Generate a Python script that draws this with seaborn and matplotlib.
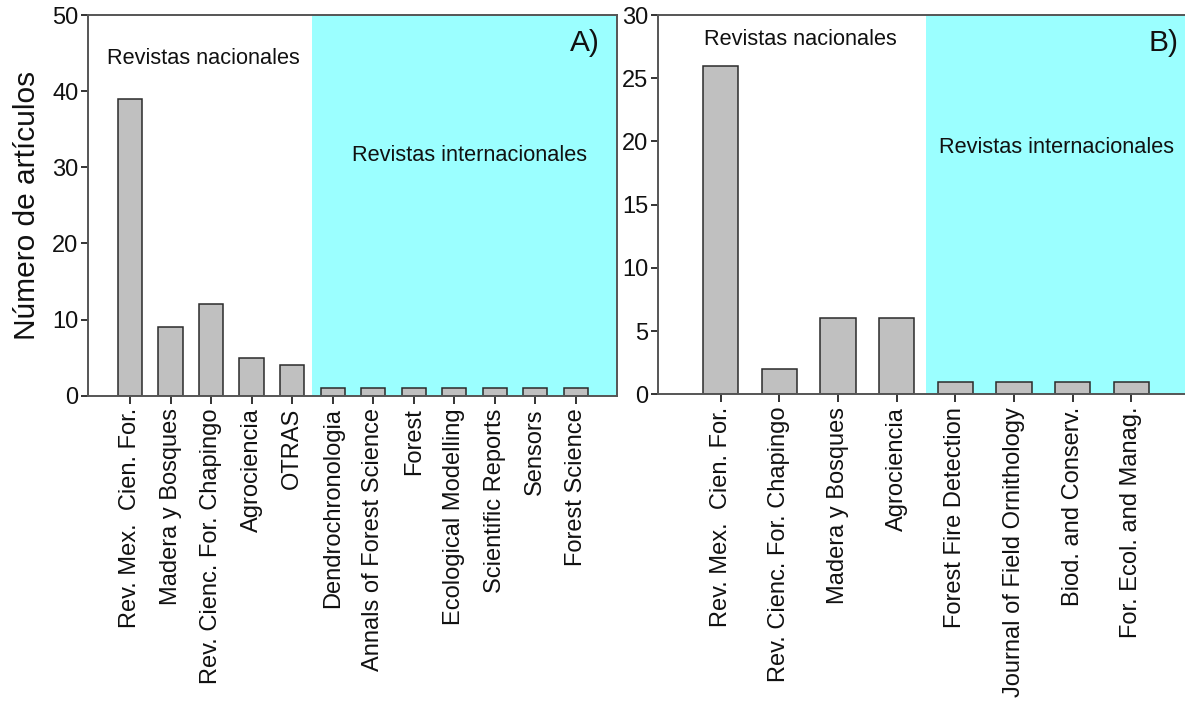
import matplotlib
matplotlib.use("Agg")
import matplotlib.pyplot as plt
import seaborn as sns
import pandas as pd

# Panel A: articles per journal
journals_a = ["Rev. Mex.  Cien. For.", "Madera y Bosques", "Rev. Cienc. For. Chapingo",
              "Agrociencia", "OTRAS", "Dendrochronologia", "Annals of Forest Science",
              "Forest", "Ecological Modelling", "Scientific Reports", "Sensors",
              "Forest Science"]
counts_a = [39, 9, 12, 5, 4, 1, 1, 1, 1, 1, 1, 1]
n_national_a = 5

# Panel B: articles per journal
journals_b = ["Rev. Mex.  Cien. For.", "Rev. Cienc. For. Chapingo", "Madera y Bosques",
              "Agrociencia", "Forest Fire Detection", "Journal of Field Ornithology",
              "Biod. and Conserv.", "For. Ecol. and Manag."]
counts_b = [26, 2, 6, 6, 1, 1, 1, 1]
n_national_b = 4

yticks_a = [0, 10, 20, 30, 40, 50]
yticks_b = [0, 5, 10, 15, 20, 25, 30]

sns.set_theme(style="white")
plt.rcParams["font.family"] = ["Liberation Sans", "DejaVu Sans"]

W, H = 1185, 706
fig = plt.figure(figsize=(W / 100, H / 100), dpi=100)

BAR = "#C0C0C0"
EDGE = "#2b2b2b"
CYAN = "#9BFFFF"
SPINE = "#555555"


def panel(rect, cats, vals, n_nat, yticks, xlim, letter, nac_xy, int_xy, letter_xy):
    ax = fig.add_axes(rect)
    df = pd.DataFrame({"revista": cats, "n": vals})
    sns.barplot(data=df, x="revista", y="n", order=cats, color=BAR,
                saturation=1, edgecolor=EDGE, linewidth=1.1, width=0.6, ax=ax, zorder=3)
    ax.axvspan(n_nat - 0.5, xlim[1] + 1, color=CYAN, zorder=0, lw=0)
    ax.set_xlim(*xlim)
    ax.set_ylim(yticks[0], yticks[-1])
    ax.set_yticks(yticks)
    ax.set_xlabel("")
    ax.set_ylabel("")
    ax.set_xticks(range(len(cats)))
    ax.set_xticklabels(cats, rotation=90, fontsize=17, color="#111111")
    ax.tick_params(axis="y", labelsize=17, colors="#111111", length=5, width=1.2,
                   direction="out", left=True, pad=2)
    ax.tick_params(axis="x", length=6, width=1.2, direction="out", bottom=True,
                   colors="#111111", pad=3)
    for side in ["left", "bottom", "top", "right"]:
        ax.spines[side].set_visible(True)
        ax.spines[side].set_color(SPINE)
        ax.spines[side].set_linewidth(1.4)
        ax.spines[side].set_zorder(5)
    ax.text(*nac_xy, "Revistas nacionales", fontsize=15.7, ha="center", va="center",
            color="#111111", zorder=6)
    ax.text(*int_xy, "Revistas internacionales", fontsize=15.7, ha="center", va="center",
            color="#111111", zorder=6)
    ax.text(*letter_xy, letter, fontsize=21.5, ha="right", va="center",
            color="#111111", zorder=6)
    return ax


ax_a = panel([88 / W, 1 - 395.7 / H, (617 - 88) / W, (395.7 - 15) / H],
             journals_a, counts_a, n_national_a, yticks_a, (-1.04, 12.02), "A)",
             (1.8, 44.3), (8.38, 31.6), (11.6, 46.3))
ax_a.set_ylabel("Número de artículos", fontsize=21.5, color="#111111", labelpad=8)

ax_b = panel([658 / W, 1 - 394.3 / H, (1194 - 658) / W, (394.3 - 15) / H],
             journals_b, counts_b, n_national_b, yticks_b, (-1.07, 8.07), "B)",
             (1.35, 28.1), (5.72, 19.55), (7.8, 27.8))

fig.savefig("out.png", dpi=100, facecolor="white")
